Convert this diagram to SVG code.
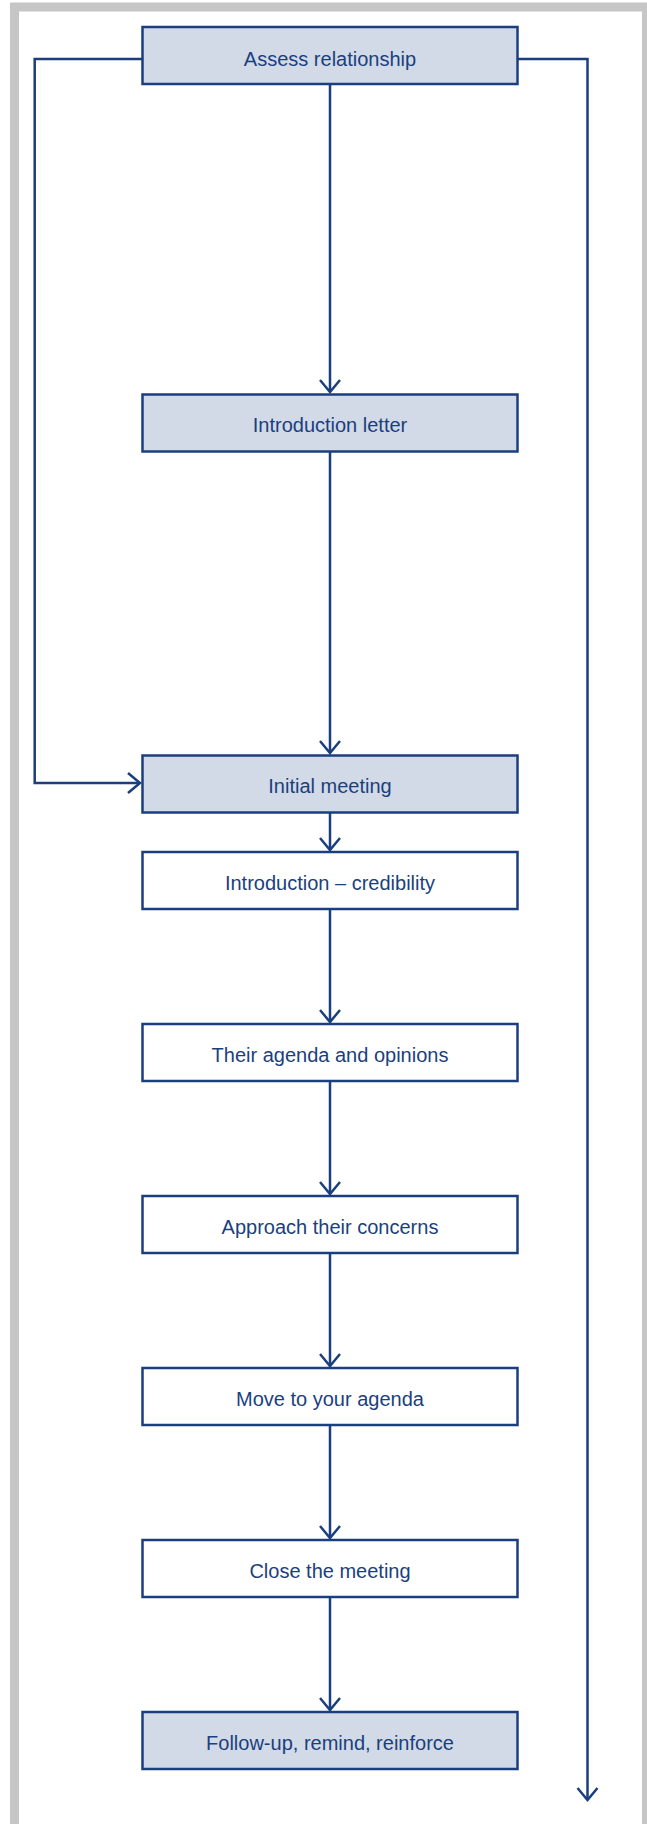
<svg xmlns="http://www.w3.org/2000/svg" width="647" height="1824" viewBox="0 0 647 1824">
<style>
.box{stroke:#1b3f7e;stroke-width:2.5}
.shade{fill:#d1dae6}
.plain{fill:#ffffff}
.lbl{font-family:"Liberation Sans",Arial,sans-serif;font-size:20px;fill:#1b3f7e;text-anchor:middle}
.con{fill:none;stroke:#1b3f7e;stroke-width:2.5}
</style>
<defs>
<marker id="arr" markerWidth="30" markerHeight="30" viewBox="-15 -15 30 30" refX="0" refY="0" orient="auto" markerUnits="userSpaceOnUse">
<path d="M-12,-10 L0,0 L-12,10" fill="none" stroke="#1b3f7e" stroke-width="2.5"/>
</marker>
</defs>
<rect x="0" y="0" width="647" height="1824" fill="#ffffff"/>
<rect x="14.5" y="7" width="632" height="1840" fill="none" stroke="#c6c6c6" stroke-width="9"/>
<g id="connectors">
<path class="con" d="M330,85 V392" marker-end="url(#arr)"/>
<path class="con" d="M330,452 V753" marker-end="url(#arr)"/>
<path class="con" d="M142,59 H34.7 V783 H140" marker-end="url(#arr)"/>
<path class="con" d="M518,59 H587.5 V1800" marker-end="url(#arr)"/>
<path class="con" d="M330,813 V850" marker-end="url(#arr)"/>
<path class="con" d="M330,909 V1022" marker-end="url(#arr)"/>
<path class="con" d="M330,1081 V1194" marker-end="url(#arr)"/>
<path class="con" d="M330,1253 V1366" marker-end="url(#arr)"/>
<path class="con" d="M330,1425 V1538" marker-end="url(#arr)"/>
<path class="con" d="M330,1597 V1710" marker-end="url(#arr)"/>
</g>
<g id="n1"><rect class="box shade" x="142.5" y="27" width="375" height="57"/><text class="lbl" x="330" y="65.5">Assess relationship</text></g>
<g id="n2"><rect class="box shade" x="142.5" y="394.5" width="375" height="57"/><text class="lbl" x="330" y="432">Introduction letter</text></g>
<g id="n3"><rect class="box shade" x="142.5" y="755.5" width="375" height="57"/><text class="lbl" x="330" y="793">Initial meeting</text></g>
<g id="n4"><rect class="box plain" x="142.5" y="852" width="375" height="57"/><text class="lbl" x="330" y="889.5">Introduction – credibility</text></g>
<g id="n5"><rect class="box plain" x="142.5" y="1024" width="375" height="57"/><text class="lbl" x="330" y="1061.5">Their agenda and opinions</text></g>
<g id="n6"><rect class="box plain" x="142.5" y="1196" width="375" height="57"/><text class="lbl" x="330" y="1233.5">Approach their concerns</text></g>
<g id="n7"><rect class="box plain" x="142.5" y="1368" width="375" height="57"/><text class="lbl" x="330" y="1405.5">Move to your agenda</text></g>
<g id="n8"><rect class="box plain" x="142.5" y="1540" width="375" height="57"/><text class="lbl" x="330" y="1577.5">Close the meeting</text></g>
<g id="n9"><rect class="box shade" x="142.5" y="1712" width="375" height="57"/><text class="lbl" x="330" y="1749.5">Follow-up, remind, reinforce</text></g>
</svg>
